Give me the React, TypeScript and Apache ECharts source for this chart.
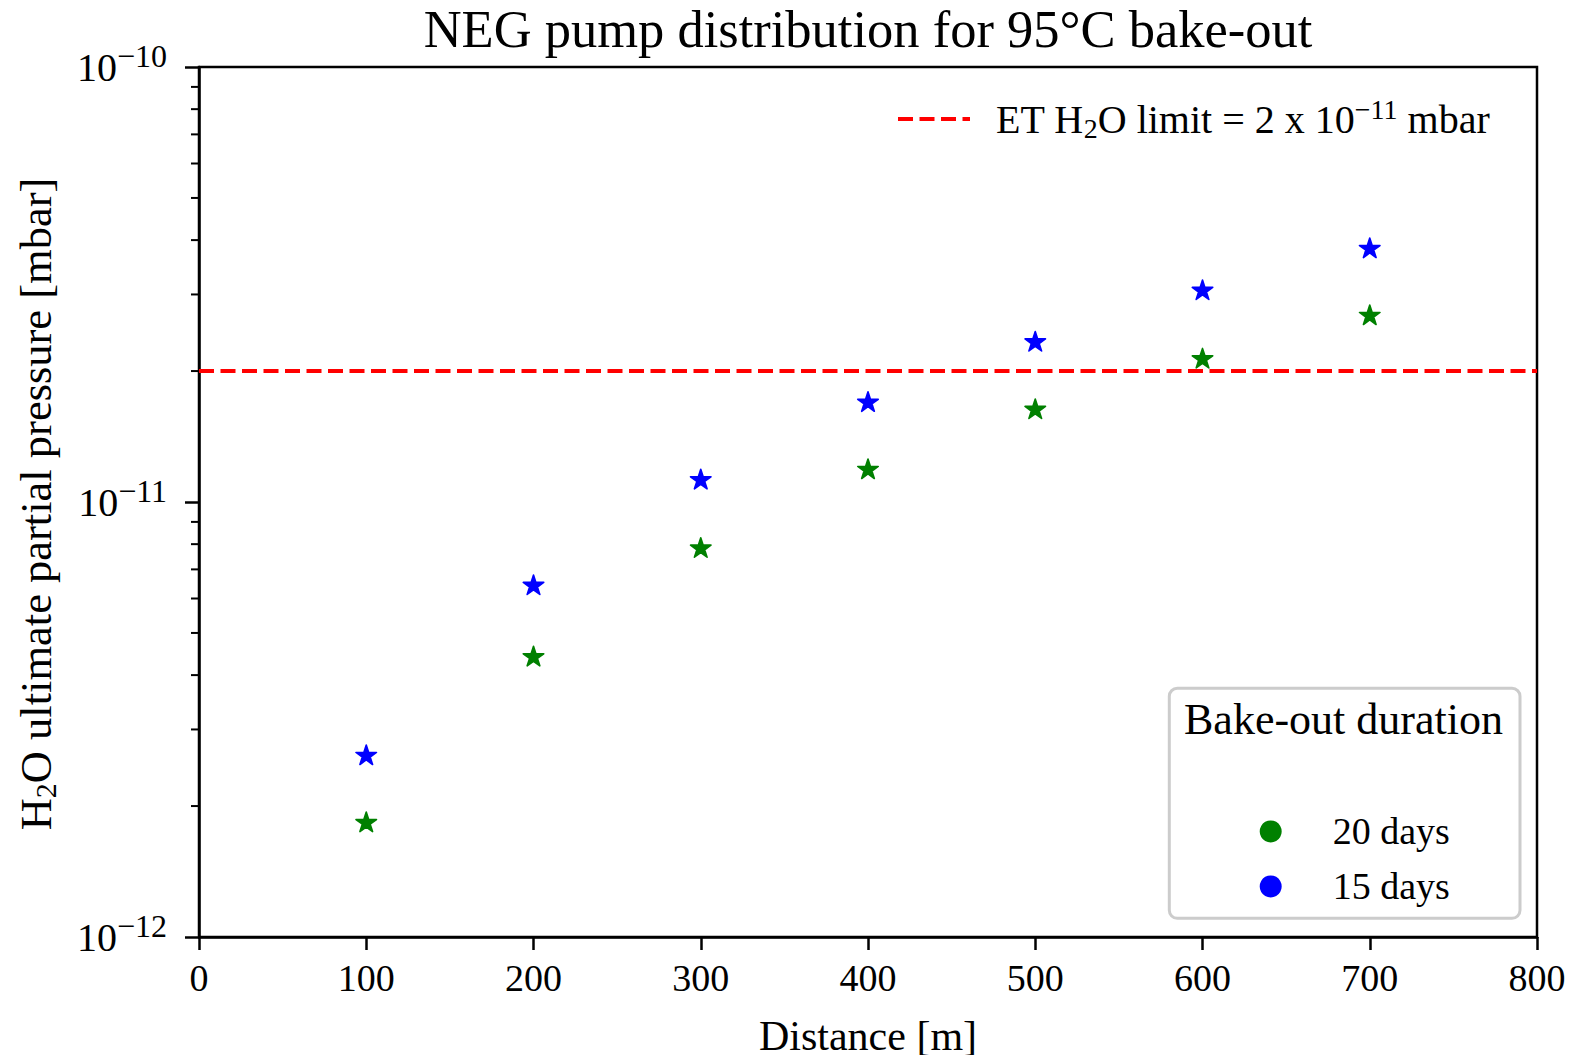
import React, { useEffect, useRef } from "react";
import * as echarts from "echarts";

// ---- data ----
const distances = [100, 200, 300, 400, 500, 600, 700];
const pressure20days = [1.83e-12, 4.4e-12, 7.82e-12, 1.186e-11, 1.63e-11, 2.13e-11, 2.68e-11];
const pressure15days = [2.61e-12, 6.42e-12, 1.123e-11, 1.693e-11, 2.33e-11, 3.06e-11, 3.82e-11];
const limitValue = 2e-11;
const limitRange = [0, 800];
const yMinorTicks = [
  2e-12, 3e-12, 4e-12, 5e-12, 6e-12, 7e-12, 8e-12, 9e-12,
  2e-11, 3e-11, 4e-11, 5e-11, 6e-11, 7e-11, 8e-11, 9e-11,
];
const seriesNames = ["20 days", "15 days"];

const FONT = "Liberation Serif";
const STAR =
  "path://M0,-50L11.23,-15.45L47.55,-15.45L18.17,5.9L29.39,40.45L0,19.1L-29.39,40.45L-18.17,5.9L-47.55,-15.45L-11.23,-15.45Z";

const GRID = { left: 199, top: 67, right: 1578 - 1537, bottom: 1055 - 937 };

export default function App() {
  const ref = useRef<HTMLDivElement>(null);
  useEffect(() => {
    if (!ref.current) return;
    const chart = echarts.init(ref.current, undefined, { renderer: "svg" });
    const starSeries = (name: string, values: number[], color: string) => ({
      name,
      type: "scatter",
      data: distances.map((d, i) => [d, values[i]]),
      symbol: STAR,
      symbolSize: 20.5,
      symbolKeepAspect: true,
      symbolOffset: [0, -1],
      itemStyle: { color, opacity: 1, borderColor: color, borderWidth: 1.6, borderJoin: "round" },
      z: 3,
    });
    const option: any = {
      animation: false,
      backgroundColor: "#fff",
      textStyle: { fontFamily: FONT },
      grid: {
        ...GRID,
        show: true,
        borderColor: "#000",
        borderWidth: 2.5,
        backgroundColor: "transparent",
      },
      xAxis: {
        type: "value",
        min: 0,
        max: 800,
        interval: 100,
        splitLine: { show: false },
        axisLine: { lineStyle: { color: "#000", width: 2.5 } },
        axisTick: { length: 13, lineStyle: { color: "#000", width: 2.5 } },
        axisLabel: { color: "#000", fontSize: 38, fontFamily: FONT, margin: 22 },
      },
      yAxis: {
        type: "log",
        logBase: 10,
        min: 1e-12,
        max: 1e-10,
        splitLine: { show: false },
        axisLine: { lineStyle: { color: "#000", width: 2.5 } },
        axisTick: { length: 14, lineStyle: { color: "#000", width: 2.5 } },
        axisLabel: {
          margin: 32,
          formatter: (v: number) => {
            const e = Math.round(Math.log10(v));
            return `{b|10}{s|\u2212${-e}}`;
          },
          rich: {
            b: { fontSize: 40, lineHeight: 54, fontFamily: FONT, color: "#000" },
            s: { fontSize: 32, lineHeight: 32, fontFamily: FONT, color: "#000", verticalAlign: "top" },
          },
        },
      },
      legend: [
        {
          data: [{ name: "limit" }],
          left: 896,
          top: 95.5,
          padding: 0,
          itemWidth: 72,
          itemHeight: 14,
          selectedMode: false,
          itemStyle: { opacity: 0 },
          lineStyle: { width: 4, type: [15, 6.5], color: "#ff0000" },
          formatter: () =>
            "{a|ET H}{sub|2}{m|O limit = 2 x 10}{sup|\u221211}{m| mbar}",
          textStyle: {
            rich: {
              a: { fontSize: 40, lineHeight: 47, fontFamily: FONT, color: "#000", padding: [0, 0, 0, 21] },
              m: { fontSize: 40, lineHeight: 47, fontFamily: FONT, color: "#000" },
              sub: { fontSize: 28, lineHeight: 28, fontFamily: FONT, color: "#000", verticalAlign: "bottom" },
              sup: { fontSize: 28, lineHeight: 28, fontFamily: FONT, color: "#000", verticalAlign: "top" },
            },
          },
        },
        {
          data: seriesNames.map((n) => ({ name: n, icon: "circle" })),
          orient: "vertical",
          left: 1259.7,
          top: 812.4,
          padding: 0,
          itemWidth: 22,
          itemHeight: 22,
          itemGap: 17,
          selectedMode: false,
          z: 20,
          itemStyle: { opacity: 1, borderWidth: 0 },
          formatter: (n: string) => `{t|${n}}`,
          textStyle: {
            rich: {
              t: { fontSize: 38, lineHeight: 22, fontFamily: FONT, color: "#000", padding: [0, 0, 0, 46] },
            },
          },
        },
      ],
      graphic: [
        {
          type: "text",
          x: 868,
          y: 29,
          style: {
            text: "NEG pump distribution for 95°C bake-out",
            fontSize: 52.5,
            fontFamily: FONT,
            fill: "#000",
            textAlign: "center",
            textVerticalAlign: "middle",
          },
        },
        {
          type: "text",
          x: 868,
          y: 1036,
          style: {
            text: "Distance [m]",
            fontSize: 42,
            fontFamily: FONT,
            fill: "#000",
            textAlign: "center",
            textVerticalAlign: "middle",
          },
        },
        {
          type: "text",
          x: 36,
          y: 504,
          rotation: Math.PI / 2,
          style: {
            text: "{a|H}{sub|2}{a|O ultimate partial pressure [mbar]}",
            textAlign: "center",
            textVerticalAlign: "middle",
            rich: {
              a: { fontSize: 44.5, lineHeight: 48, fontFamily: FONT, fill: "#000" },
              sub: { fontSize: 30, lineHeight: 30, fontFamily: FONT, fill: "#000", verticalAlign: "bottom" },
            },
          },
        },
        {
          type: "rect",
          z: 1,
          shape: { x: 1169.3, y: 688.3, width: 350.7, height: 230, r: 8 },
          style: { fill: "rgba(255,255,255,0.8)", stroke: "#cccccc", lineWidth: 3 },
        },
        {
          type: "text",
          x: 1184,
          y: 719,
          z: 11,
          style: {
            text: "Bake-out duration",
            fontSize: 44,
            fontFamily: FONT,
            fill: "#000",
            textAlign: "left",
            textVerticalAlign: "middle",
          },
        },
      ],
      series: [
        {
          name: "limit",
          type: "line",
          data: limitRange.map((x) => [x, limitValue]),
          symbol: "none",
          showSymbol: false,
          lineStyle: { color: "#ff0000", width: 4, type: [15, 6.5] },
          itemStyle: { color: "#ff0000" },
          z: 2,
        },
        starSeries(seriesNames[0], pressure20days, "#008000"),
        starSeries(seriesNames[1], pressure15days, "#0000ff"),
        {
          name: "minorTicks",
          type: "custom",
          silent: true,
          clip: false,
          data: yMinorTicks.map((v) => [0, v]),
          renderItem: (_p: any, api: any) => {
            const pt = api.coord([0, api.value(1)]);
            return {
              type: "line",
              shape: { x1: pt[0] - 8, y1: pt[1], x2: pt[0], y2: pt[1] },
              style: { stroke: "#000", lineWidth: 2 },
            };
          },
          z: 4,
        },
      ],
    };
    chart.setOption(option);
    return () => chart.dispose();
  }, []);
  return (
    <div
      ref={ref}
      style={{ position: "fixed", left: 0, top: 0, width: 1578, height: 1055, background: "#fff" }}
    />
  );
}
